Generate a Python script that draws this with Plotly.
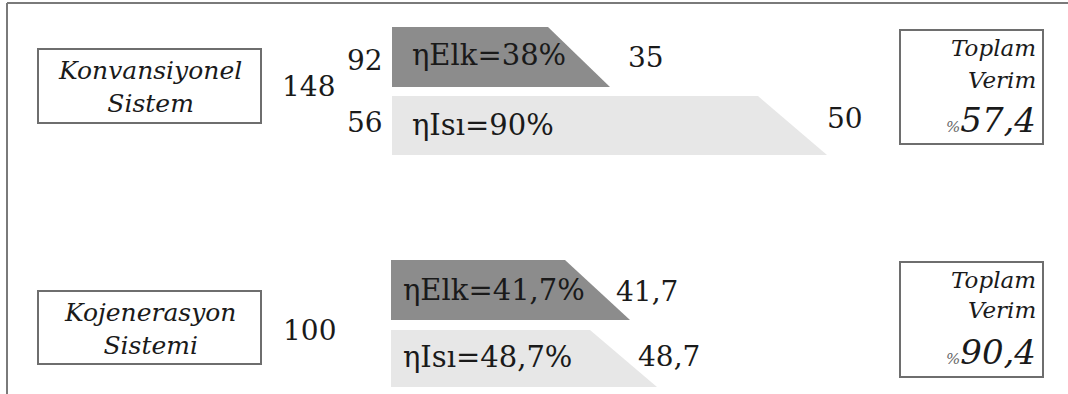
import plotly.graph_objects as go

# --- values -------------------------------------------------------------
systems = ["Konvansiyonel<br>Sistem", "Kojenerasyon<br>Sistemi"]
fuel_input = [148, 100]
elk_fuel = [92, None]
isi_fuel = [56, None]
elk_eff = [38, 41.7]
isi_eff = [90, 48.7]
elk_output = [35, 41.7]
isi_output = [50, 48.7]
total_eff = [57.4, 90.4]


def tr(v):
    """Turkish number format: comma as decimal separator."""
    if v is None:
        return ""
    if float(v).is_integer():
        return str(int(v))
    return f"{v:.1f}".replace(".", ",")


# --- layout geometry (pixel-like canvas, y grows downwards) -------------
W, H = 1068, 394
FONT = "DejaVu Serif"
INK = "#1a1a1a"
DARK = "#8c8c8c"
LIGHT = "#e7e7e7"
NUM = 28   # flow numbers
LBL = 29   # efficiency labels inside the bands

rows = [
    dict(sys_box=(38, 261, 49, 123), fuel_xy=(308, 86),
         elk=(392, 548, 610, 27, 87), isi=(392, 758, 827, 96, 155),
         elk_fuel_xy=(365, 60), isi_fuel_xy=(365, 122),
         elk_lbl=(410, 55), isi_lbl=(410, 125),
         elk_out=(626, 57), isi_out=(825, 118),
         tot_box=(900, 1043, 30, 144), tot_y=(48, 80, 120)),
    dict(sys_box=(38, 261, 291, 364), fuel_xy=(309, 330),
         elk=(391, 565, 630, 260, 320), isi=(391, 590, 657, 330, 387),
         elk_fuel_xy=None, isi_fuel_xy=None,
         elk_lbl=(401, 290), isi_lbl=(401, 357),
         elk_out=(614, 291), isi_out=(636, 356),
         tot_box=(900, 1043, 262, 377), tot_y=(280, 310, 352)),
]

fig = go.Figure()
shapes = []
ann = []


def add_trap(x0, xt, xb, y0, y1, color):
    fig.add_trace(go.Scatter(
        x=[x0, xt, xb, x0, x0], y=[y0, y0, y1, y1, y0],
        mode="lines", fill="toself", fillcolor=color,
        line=dict(width=0, color=color), hoverinfo="skip",
        showlegend=False))


def add_text(x, y, text, size, anchor="center"):
    ann.append(dict(x=x, y=y, xref="x", yref="y", text=text,
                    showarrow=False, xanchor=anchor, yanchor="middle",
                    font=dict(family=FONT, size=size, color=INK)))


for i, r in enumerate(rows):
    # energy flow bands
    add_trap(*r["elk"], DARK)
    add_trap(*r["isi"], LIGHT)

    # system name box
    bx0, bx1, by0, by1 = r["sys_box"]
    shapes.append(dict(type="rect", x0=bx0, x1=bx1, y0=by0, y1=by1,
                       xref="x", yref="y",
                       line=dict(color="#6e6e6e", width=2),
                       fillcolor="white", layer="below"))
    add_text((bx0 + bx1) / 2, (by0 + by1) / 2 + 1,
             f"<i>{systems[i]}</i>", 25)

    # fuel input
    add_text(*r["fuel_xy"], tr(fuel_input[i]), NUM)
    if r["elk_fuel_xy"] and elk_fuel[i] is not None:
        add_text(*r["elk_fuel_xy"], tr(elk_fuel[i]), NUM)
    if r["isi_fuel_xy"] and isi_fuel[i] is not None:
        add_text(*r["isi_fuel_xy"], tr(isi_fuel[i]), NUM)

    # efficiencies inside the bands
    add_text(*r["elk_lbl"], f"ηElk={tr(elk_eff[i])}%", LBL, anchor="left")
    add_text(*r["isi_lbl"], f"ηIsı={tr(isi_eff[i])}%", LBL, anchor="left")

    # useful outputs
    add_text(*r["elk_out"], tr(elk_output[i]), NUM, anchor="left")
    add_text(*r["isi_out"], tr(isi_output[i]), NUM, anchor="left")

    # total efficiency box
    tx0, tx1, ty0, ty1 = r["tot_box"]
    shapes.append(dict(type="rect", x0=tx0, x1=tx1, y0=ty0, y1=ty1,
                       xref="x", yref="y",
                       line=dict(color="#6e6e6e", width=2),
                       fillcolor="white", layer="below"))
    xr = tx1 - 5
    add_text(xr, r["tot_y"][0], "<i>Toplam</i>", 23, anchor="right")
    add_text(xr, r["tot_y"][1], "<i>Verim</i>", 23, anchor="right")
    add_text(xr, r["tot_y"][2],
             f"<i><span style='font-size:15px;color:#666'>%</span>"
             f"{tr(total_eff[i])}</i>", 34, anchor="right")

# outer frame (top and left edges)
shapes.append(dict(type="line", x0=7, x1=W, y0=3, y1=3, xref="x", yref="y",
                   line=dict(color="#7a7a7a", width=2)))
shapes.append(dict(type="line", x0=7, x1=7, y0=3, y1=H, xref="x", yref="y",
                   line=dict(color="#7a7a7a", width=2)))

fig.update_layout(
    width=W, height=H,
    margin=dict(l=0, r=0, t=0, b=0),
    paper_bgcolor="white", plot_bgcolor="white",
    xaxis=dict(range=[0, W], visible=False, fixedrange=True),
    yaxis=dict(range=[H, 0], visible=False, fixedrange=True),
    shapes=shapes, annotations=ann, showlegend=False,
)

fig.write_html("out.html", config={"displayModeBar": False})
